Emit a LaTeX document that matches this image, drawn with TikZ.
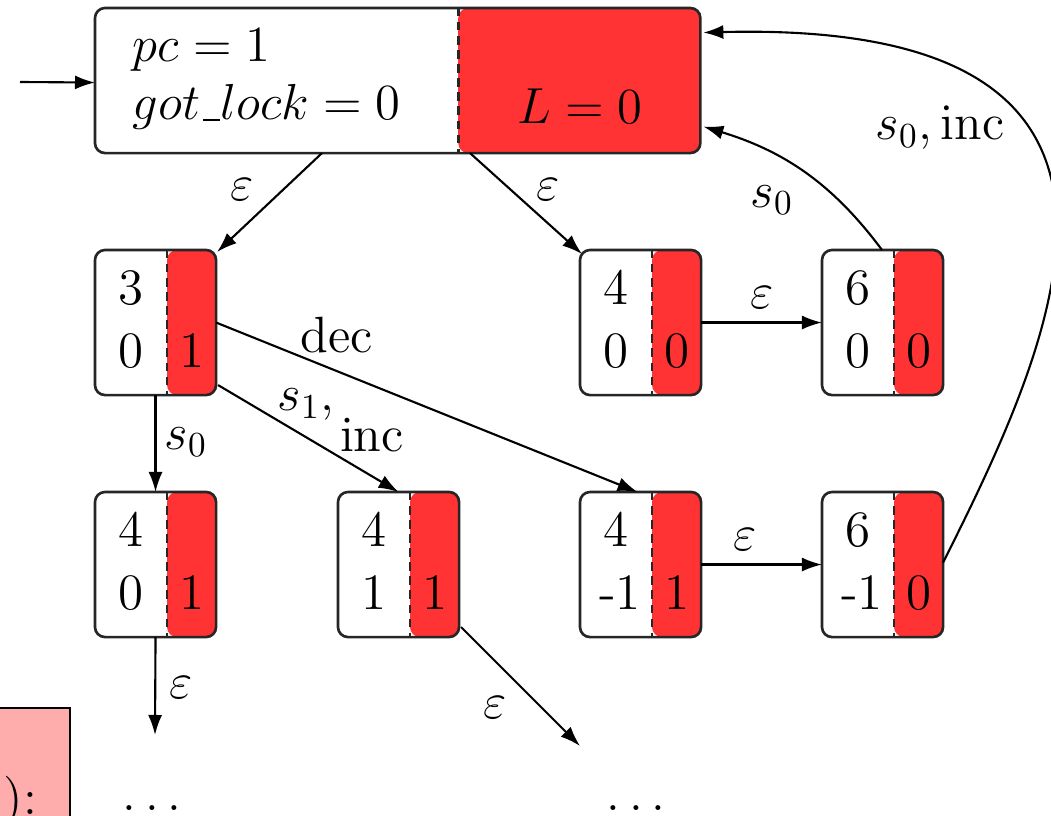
\documentclass[tikz,border=0pt]{standalone}
\usetikzlibrary{arrows.meta,calc}
\definecolor{stred}{RGB}{255,51,51}
\definecolor{pinkbg}{RGB}{255,172,172}
\newcommand{\lowbar}{\mbox{\kern.06em\rule[-0.02em]{.32em}{.045em}\kern.02em}}
\begin{document}
\begin{tikzpicture}[x=0.01cm,y=-0.01cm,
  every node/.style={font=\fontsize{14.5}{17}\selectfont, inner sep=0pt, outer sep=0pt},
  statebox/.style={draw=black!85, line width=0.75pt, rounded corners=0.1cm, fill=white,
    minimum width=1.21cm, minimum height=1.45cm, anchor=north west,
    path picture={
      \fill[stred] ([xshift=-#1]path picture bounding box.north east) rectangle (path picture bounding box.south east);
      \draw[dash pattern=on 2.4pt off 1.6pt, line width=0.8pt, black!85]
        ([xshift=-#1]path picture bounding box.north east) -- ([xshift=-#1]path picture bounding box.south east);}},
  conn/.style={-{Latex[length=0.2cm,width=0.14cm]}, line width=0.6pt},
  lbl/.style={anchor=center},
  txt/.style={anchor=base}
]
\useasboundingbox (0,0) rectangle (1051,816);

% pink box (cut off)
\node[draw=black, line width=0.7pt, fill=pinkbg, minimum width=1.0cm, minimum height=1.3cm, anchor=north east] (pk) at (70,708) {};
\node[anchor=base east] (pkt) at (37,815) {1):};

% initial state
\node[statebox=2.42cm, minimum width=6.05cm] (init) at (95,8) {};
\node[anchor=base west] (t1) at (133,62) {$pc = 1$};
\node[anchor=base west] (t2) at (133,120) {$got\lowbar lock = 0$};
\node[txt] (t3) at (580,124) {$L = 0$};

% states
\node[statebox=0.49cm] (a) at (95,250) {};
\node[statebox=0.49cm] (b) at (580,250) {};
\node[statebox=0.49cm] (c) at (822,250) {};
\node[statebox=0.49cm] (d) at (95,492) {};
\node[statebox=0.49cm] (e) at (338,492) {};
\node[statebox=0.49cm] (f) at (580,492) {};
\node[statebox=0.49cm] (g) at (822,492) {};

% state contents
\node[txt] (a1) at ($(a.north west)+(36,55)$) {3};
\node[txt] (a2) at ($(a.north west)+(36,118)$) {0};
\node[txt] (a3) at ($(a.north west)+(97,118)$) {1};
\node[txt] (b1) at ($(b.north west)+(36,55)$) {4};
\node[txt] (b2) at ($(b.north west)+(36,118)$) {0};
\node[txt] (b3) at ($(b.north west)+(97,118)$) {0};
\node[txt] (c1) at ($(c.north west)+(36,55)$) {6};
\node[txt] (c2) at ($(c.north west)+(36,118)$) {0};
\node[txt] (c3) at ($(c.north west)+(97,118)$) {0};
\node[txt] (d1) at ($(d.north west)+(36,55)$) {4};
\node[txt] (d2) at ($(d.north west)+(36,118)$) {0};
\node[txt] (d3) at ($(d.north west)+(97,118)$) {1};
\node[txt] (e1) at ($(e.north west)+(36,55)$) {4};
\node[txt] (e2) at ($(e.north west)+(36,118)$) {1};
\node[txt] (e3) at ($(e.north west)+(97,118)$) {1};
\node[txt] (f1) at ($(f.north west)+(36,55)$) {4};
\node[txt] (f2) at ($(f.north west)+(40,118)$) {-1};
\node[txt] (f3) at ($(f.north west)+(97,118)$) {1};
\node[txt] (g1) at ($(g.north west)+(36,55)$) {6};
\node[txt] (g2) at ($(g.north west)+(40,118)$) {-1};
\node[txt] (g3) at ($(g.north west)+(97,118)$) {0};

% free ends
\coordinate (start) at (20,82);
\coordinate (dend) at (155,735);
\coordinate (eend) at (580,746);

% dots
\node[txt] (dots1) at (152,811) {$\ldots$};
\node[txt] (dots2) at (636,811) {$\ldots$};

% connectors
\draw[conn] (start) -- ($(init.west)+(0,2)$);
\draw[conn] ($(init.south west)+(227,0)$) -- ($(a.north east)+(1,2)$);
\draw[conn] ($(init.south west)+(375,0)$) -- ($(b.north west)+(2,4)$);
\draw[conn] (b.east) -- (c.west);
\draw[conn] ($(c.north west)+(60,0)$) .. controls (830,180) and (780,150) .. ($(init.east)+(3,46)$);
\draw[conn] ($(g.east)+(0,-2)$) .. controls (1060,330) and (1200,20) .. ($(init.east)+(3,-48)$);
\draw[conn] (a.south) -- (d.north);
\draw[conn] ($(a.south east)+(2,-10)$) -- (e.north);
\draw[conn] (a.east) -- ($(f.north)+(-3,0)$);
\draw[conn] (f.east) -- (g.west);
\draw[conn] (d.south) -- (dend);
\draw[conn] ($(e.south east)+(2,-10)$) -- (eend);

% labels
\node[lbl] (l1) at (242,190) {$\varepsilon$};
\node[lbl] (l2) at (548,190) {$\varepsilon$};
\node[lbl] (l3) at (762,298) {$\varepsilon$};
\node[lbl] (l4) at (772,200) {$s_0$};
\node[lbl] (l5) at (940,128) {$s_0,\mathrm{inc}$};
\node[lbl] (l6) at (337,335) {dec};
\node[lbl] (l7) at (306,405) {$s_1,$};
\node[lbl] (l8) at (372,435) {inc};
\node[lbl] (l9) at (186,442) {$s_0$};
\node[lbl] (l10) at (745,540) {$\varepsilon$};
\node[lbl] (l11) at (181,688) {$\varepsilon$};
\node[lbl] (l12) at (495,708) {$\varepsilon$};
\end{tikzpicture}
\end{document}
